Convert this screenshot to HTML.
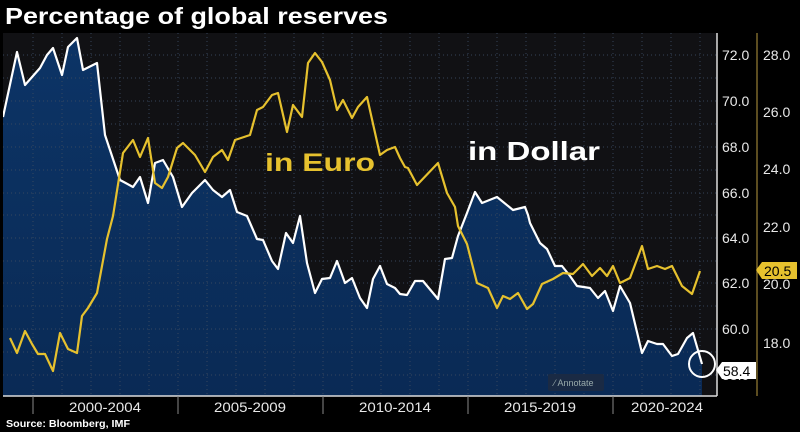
<!DOCTYPE html>
<html><head><meta charset="utf-8"><style>
html,body{margin:0;padding:0;background:#000;}
svg{display:block;font-family:"Liberation Sans",sans-serif;}
</style></head><body>
<svg width="800" height="432" viewBox="0 0 800 432" xmlns="http://www.w3.org/2000/svg">
<defs>
<linearGradient id="g" x1="0" y1="0" x2="0" y2="1">
<stop offset="0" stop-color="#0c3466"/><stop offset="1" stop-color="#0a2a55"/>
</linearGradient>
<clipPath id="c"><rect x="3" y="33" width="714" height="363"/></clipPath>
</defs>
<rect width="800" height="432" fill="#000"/>
<text x="5" y="24" font-size="23" font-weight="bold" fill="#fff" textLength="383" lengthAdjust="spacingAndGlyphs">Percentage of global reserves</text>
<rect x="3" y="33" width="714" height="363" fill="#111114"/>
<g clip-path="url(#c)">
<path fill="url(#g)" d="M3,117 L17,52 L25,85 L40,68 L47,55 L53,48 L62,75 L68,47 L77,38 L83,70 L97,63 L105,135 L120,180 L133,187 L140,177 L148,203 L155,163 L163,160 L173,177 L182,207 L192,193 L205,180 L213,190 L222,197 L230,190 L237,212 L247,216 L257,239 L263,240 L272,261 L278,269 L286,233 L293,243 L300,216 L307,263 L315,293 L322,279 L330,278 L337,261 L345,283 L352,278 L360,298 L367,308 L373,279 L380,266 L387,284 L395,288 L400,294 L407,295 L415,281 L423,281 L438,299 L445,259 L452,258 L458,236 L467,213 L475,192 L482,203 L497,197 L513,210 L525,207 L528,215 L530,223 L540,243 L547,249 L555,266 L562,266 L570,276 L577,286 L590,288 L598,298 L605,291 L613,311 L620,286 L630,303 L642,353 L648,341 L657,344 L663,344 L672,356 L678,354 L687,338 L693,333 L702,364 L702,396 L3,396 Z"/>
<g stroke="#3a4a60" stroke-width="1" stroke-dasharray="1,3" opacity="0.9">
<line x1="3" y1="55" x2="717" y2="55"/><line x1="3" y1="78" x2="717" y2="78"/><line x1="3" y1="101" x2="717" y2="101"/><line x1="3" y1="124" x2="717" y2="124"/><line x1="3" y1="147" x2="717" y2="147"/><line x1="3" y1="170" x2="717" y2="170"/><line x1="3" y1="193" x2="717" y2="193"/><line x1="3" y1="215" x2="717" y2="215"/><line x1="3" y1="238" x2="717" y2="238"/><line x1="3" y1="261" x2="717" y2="261"/><line x1="3" y1="283" x2="717" y2="283"/><line x1="3" y1="306" x2="717" y2="306"/><line x1="3" y1="329" x2="717" y2="329"/><line x1="3" y1="352" x2="717" y2="352"/><line x1="3" y1="375" x2="717" y2="375"/>
<line x1="33" y1="33" x2="33" y2="396"/><line x1="62" y1="33" x2="62" y2="396"/><line x1="91" y1="33" x2="91" y2="396"/><line x1="120" y1="33" x2="120" y2="396"/><line x1="149" y1="33" x2="149" y2="396"/><line x1="178" y1="33" x2="178" y2="396"/><line x1="207" y1="33" x2="207" y2="396"/><line x1="236" y1="33" x2="236" y2="396"/><line x1="265" y1="33" x2="265" y2="396"/><line x1="294" y1="33" x2="294" y2="396"/><line x1="323" y1="33" x2="323" y2="396"/><line x1="352" y1="33" x2="352" y2="396"/><line x1="381" y1="33" x2="381" y2="396"/><line x1="410" y1="33" x2="410" y2="396"/><line x1="439" y1="33" x2="439" y2="396"/><line x1="468" y1="33" x2="468" y2="396"/><line x1="497" y1="33" x2="497" y2="396"/><line x1="526" y1="33" x2="526" y2="396"/><line x1="555" y1="33" x2="555" y2="396"/><line x1="584" y1="33" x2="584" y2="396"/><line x1="613" y1="33" x2="613" y2="396"/><line x1="642" y1="33" x2="642" y2="396"/><line x1="671" y1="33" x2="671" y2="396"/><line x1="700" y1="33" x2="700" y2="396"/>
</g>
<polyline fill="none" stroke="#fff" stroke-width="2.2" stroke-linejoin="round" points="3,117 17,52 25,85 40,68 47,55 53,48 62,75 68,47 77,38 83,70 97,63 105,135 120,180 133,187 140,177 148,203 155,163 163,160 173,177 182,207 192,193 205,180 213,190 222,197 230,190 237,212 247,216 257,239 263,240 272,261 278,269 286,233 293,243 300,216 307,263 315,293 322,279 330,278 337,261 345,283 352,278 360,298 367,308 373,279 380,266 387,284 395,288 400,294 407,295 415,281 423,281 438,299 445,259 452,258 458,236 467,213 475,192 482,203 497,197 513,210 525,207 528,215 530,223 540,243 547,249 555,266 562,266 570,276 577,286 590,288 598,298 605,291 613,311 620,286 630,303 642,353 648,341 657,344 663,344 672,356 678,354 687,338 693,333 702,364"/>
<polyline fill="none" stroke="#e6c12e" stroke-width="2.2" stroke-linejoin="round" points="10,338 17,353 25,331 32,344 38,354 45,354 53,371 60,333 68,349 77,353 82,316 88,308 97,293 102,266 107,239 113,216 123,153 133,140 140,157 148,138 155,183 162,188 168,177 177,148 183,143 195,155 205,172 213,157 222,150 228,160 235,140 250,135 257,110 263,107 272,95 278,93 287,132 293,105 302,117 308,63 315,53 322,62 330,80 337,110 343,100 352,118 358,107 367,97 380,155 387,150 395,147 400,158 405,167 408,168 417,185 438,163 447,193 455,207 458,226 467,244 477,283 488,288 497,308 503,296 510,299 518,293 527,309 533,304 542,284 553,279 563,273 573,274 583,264 592,276 600,268 607,276 613,266 620,283 630,278 642,246 648,269 657,266 665,269 672,266 682,286 692,294 700,271"/>
</g>
<circle cx="702" cy="364" r="13" fill="none" stroke="#fff" stroke-width="2"/>
<rect x="548" y="374" width="56" height="17" fill="#1a2a44" rx="2"/>
<text x="554" y="386" font-size="9" fill="#9aa">⁄ Annotate</text>
<text x="265" y="171" font-size="25" font-weight="bold" fill="#e6c12e" textLength="110" lengthAdjust="spacingAndGlyphs">in Euro</text>
<text x="468" y="160" font-size="26" font-weight="bold" fill="#fff" textLength="132" lengthAdjust="spacingAndGlyphs">in Dollar</text>
<line x1="717" y1="33" x2="717" y2="396" stroke="#ddd" stroke-width="1.5"/>
<line x1="757" y1="33" x2="757" y2="396" stroke="#b89a40" stroke-width="1"/>
<line x1="3" y1="396" x2="717" y2="396" stroke="#ddd" stroke-width="1.5"/>
<g fill="#e8e8e8" font-size="14">
<text x="722" y="60">72.0</text><text x="722" y="106">70.0</text><text x="722" y="152">68.0</text><text x="722" y="198">66.0</text><text x="722" y="243">64.0</text><text x="722" y="288">62.0</text><text x="722" y="334">60.0</text><text x="722" y="380">58.0</text>
<text x="763" y="60">28.0</text><text x="763" y="117">26.0</text><text x="763" y="174">24.0</text><text x="763" y="232">22.0</text><text x="763" y="289">20.0</text><text x="763" y="348">18.0</text>
</g>
<polygon points="756,270 762,262 797,262 797,279 762,279" fill="#e6c12e"/>
<text x="764" y="276" font-size="14" fill="#000">20.5</text>
<polygon points="716,370 722,362 756,362 756,379 722,379" fill="#fff"/>
<text x="723" y="376" font-size="14" fill="#000">58.4</text>
<g stroke="#888" stroke-width="1">
<line x1="33" y1="396" x2="33" y2="414"/><line x1="178" y1="396" x2="178" y2="414"/><line x1="323" y1="396" x2="323" y2="414"/><line x1="468" y1="396" x2="468" y2="414"/><line x1="613" y1="396" x2="613" y2="414"/>
</g>
<g fill="#e8e8e8" font-size="14" text-anchor="middle">
<text x="105" y="412" textLength="72" lengthAdjust="spacingAndGlyphs">2000-2004</text><text x="250" y="412" textLength="72" lengthAdjust="spacingAndGlyphs">2005-2009</text><text x="395" y="412" textLength="72" lengthAdjust="spacingAndGlyphs">2010-2014</text><text x="540" y="412" textLength="72" lengthAdjust="spacingAndGlyphs">2015-2019</text><text x="667" y="412" textLength="72" lengthAdjust="spacingAndGlyphs">2020-2024</text>
</g>
<text x="6" y="427" font-size="10" font-weight="bold" fill="#fff" textLength="124" lengthAdjust="spacingAndGlyphs">Source: Bloomberg, IMF</text>
</svg>
</body></html>
